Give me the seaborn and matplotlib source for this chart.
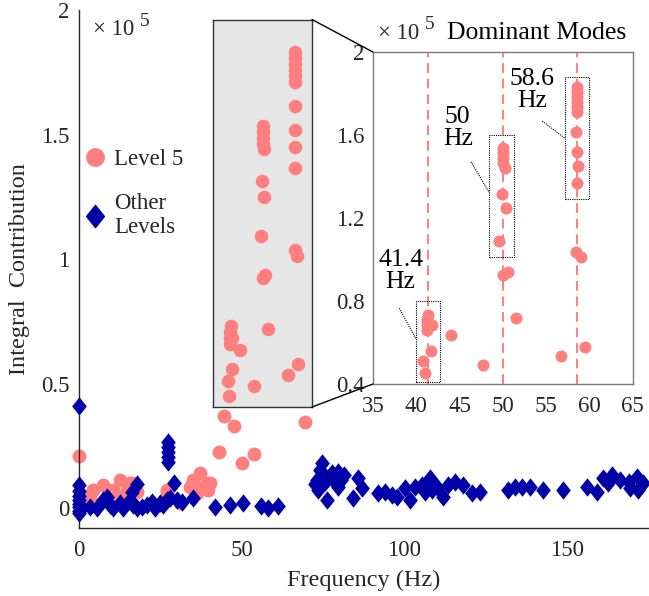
import numpy as np
import pandas as pd
import seaborn as sns
import matplotlib.pyplot as plt
from matplotlib.lines import Line2D
from matplotlib.patches import Rectangle, ConnectionPatch
from matplotlib.path import Path

# ---------------- data (integral contribution in units of 1e5) ----------------
# Level 5 modes visible in the main panel
level5_freq = [0.0, 2.4, 3.4, 4.4, 7.5, 10.5, 12.6, 12.6, 14.7, 15.7, 16.3, 17.8,
               27.0, 27.0, 31.0, 34.1, 35.1, 36.2, 37.2, 38.1, 39.3, 39.8, 40.3,
               43.0, 44.7, 47.7, 50.2, 53.8, 69.5]
level5_amp = [0.21, 0.045, 0.044, 0.072, 0.092, 0.072, 0.112, 0.044, 0.072, 0.099, 0.10, 0.064,
              0.072, 0.064, 0.02, 0.086, 0.112, 0.059, 0.139, 0.084, 0.099, 0.072, 0.10,
              0.226, 0.37, 0.33, 0.18, 0.216, 0.347]

# All other decomposition levels
other_freq = [0, 0, 0, 0, 0, 0, 0, 0, 0,
              3.4, 5.4, 7.5, 8.5, 9.5, 10.5, 12.6, 13.6, 15.7, 16.7, 16.2, 17.7, 17.8,
              19.3, 20.8, 22.3, 23.4, 24.9, 25.9, 27.0, 28.0, 30.0, 31.6,
              27.4, 27.4, 27.4, 27.4, 27.4, 29.3, 35.0, 41.8, 46.4, 50.5, 55.8, 58.2, 61.3,
              74.6, 74.1, 73.1, 75.6, 77.7, 79.7, 81.3, 78.7, 79.7, 73.6, 76.1, 76.6, 72.5, 80.5,
              85.9, 86.9, 84.3, 92.0, 94.1, 96.1, 97.6, 100.2, 101.8, 103.3, 105.3, 106.4,
              107.9, 108.4, 110.0, 112.0, 113.5, 115.6, 118.1, 120.7, 123.3, 132.0, 134.0,
              136.1, 138.6, 142.5, 148.9, 156.1, 159.2, 161.2, 163.7, 166.3, 168.9, 171.4,
              171.9, 173.5, 162.7, 169.4]
other_amp = [0.41, 0.092, 0.07, 0.05, 0.032, 0.015, 0.004, -0.01, -0.02,
             0.005, 0.0, 0.032, 0.045, 0.012, 0.0, 0.02, 0.0, 0.032, 0.012, 0.065, 0.0, 0.095,
             0.005, 0.012, 0.025, 0.0, 0.02, 0.012, 0.032, 0.04, 0.032, 0.025,
             0.265, 0.245, 0.225, 0.205, 0.185, 0.10, 0.042, 0.004, 0.014, 0.022, 0.01, 0.0, 0.01,
             0.18, 0.153, 0.112, 0.106, 0.14, 0.146, 0.133, 0.106, 0.086, 0.072, 0.032, 0.12, 0.095, 0.112,
             0.12, 0.079, 0.039, 0.059, 0.065, 0.052, 0.045, 0.079, 0.032, 0.086, 0.092, 0.065,
             0.12, 0.072, 0.086, 0.045, 0.092, 0.106, 0.092, 0.059, 0.065, 0.072, 0.086,
             0.086, 0.086, 0.072, 0.072, 0.086, 0.065, 0.12, 0.133, 0.112, 0.106, 0.126,
             0.072, 0.099, 0.099, 0.079]

# Dominant Level 5 modes (zoomed view)
dom_freq = [58.6, 58.6, 58.6, 58.6, 58.6, 58.6, 58.5, 58.6, 58.7, 58.6, 58.5, 59.0,
            59.5, 56.7,
            50.0, 50.0, 50.0, 50.0, 50.25, 49.9, 50.4, 49.6, 50.0, 50.55, 51.5, 47.75,
            41.4, 41.3, 41.3, 41.8, 41.3, 44.0, 41.7, 40.75, 41.0]
dom_amp = [1.833, 1.809, 1.785, 1.76, 1.736, 1.712, 1.616, 1.52, 1.451, 1.367, 1.035, 1.013,
           0.577, 0.535,
           1.536, 1.512, 1.488, 1.464, 1.44, 1.314, 1.25, 1.091, 0.925, 0.938, 0.72, 0.49,
           0.733, 0.708, 0.684, 0.684, 0.66, 0.636, 0.56, 0.512, 0.452]

mode_labels = ['41.4\nHz', '50\nHz', '58.6\nHz']
mode_freq = [41.4, 50.0, 58.6]

level5_df = pd.DataFrame({'freq': level5_freq, 'amp': level5_amp})
other_df = pd.DataFrame({'freq': other_freq, 'amp': other_amp})
dom_df = pd.DataFrame({'freq': dom_freq, 'amp': dom_amp})

# ---------------- style ----------------
sns.set_theme(style='white')
plt.rcParams['font.family'] = ['Liberation Serif', 'DejaVu Serif']

RED = '#FF7F7F'
BLUE = '#0000A8'
TXT = '#262626'
DIAMOND = Path([(0, 1), (0.8, 0), (0, -1), (-0.8, 0), (0, 1)],
               [Path.MOVETO, Path.LINETO, Path.LINETO, Path.LINETO, Path.CLOSEPOLY])

W, H = 649, 596
fig = plt.figure(figsize=(W / 100, H / 100), dpi=100)


def scale_note(axis, x, y, size=16.5):
    """Write a '× 10^5' multiplier with a raised exponent at axes position (x, y)."""
    t = axis.text(x, y, '\u00d7 10', transform=axis.transAxes, fontsize=size,
                  color=TXT, ha='left', va='center')
    axis.annotate('5', xy=(1, 0.5), xycoords=t, xytext=(4, 6), textcoords='offset points',
                  fontsize=size * 0.85, color=TXT, ha='left', va='center')


# ---------------- main panel ----------------
ax = fig.add_axes([79 / W, 68 / H, 570 / W, 518 / H])
sns.scatterplot(data=level5_df, x='freq', y='amp', ax=ax, color=RED, s=100,
                linewidth=0, legend=False, zorder=2, clip_on=False)
sns.scatterplot(data=other_df, x='freq', y='amp', ax=ax, color=BLUE, s=175,
                marker=DIAMOND, linewidth=0, legend=False, zorder=3, clip_on=False)
ax.set_xlim(0, 175.2)
ax.set_ylim(-0.08, 2.0)
ax.set_xticks([0, 50, 100, 150])
ax.set_yticks([0, 0.5, 1, 1.5, 2])
ax.set_yticklabels(['0', '0.5', '1', '1.5', '2'])
for s in ['top', 'right']:
    ax.spines[s].set_visible(False)
for s in ['left', 'bottom']:
    ax.spines[s].set_color('#262626')
    ax.spines[s].set_linewidth(1.0)
ax.tick_params(axis='both', direction='in', length=6, width=1.0, color='#262626',
               labelsize=16.5, labelcolor=TXT)
ax.tick_params(axis='x', pad=9)
ax.tick_params(axis='y', pad=7)
ax.set_xlabel('Frequency (Hz)', fontsize=17.5, color=TXT, labelpad=6)
ax.set_ylabel('Integral  Contribution', fontsize=17.5, color=TXT, labelpad=8)
scale_note(ax, 0.025, 0.962)

handles = [Line2D([], [], ls='', marker='o', color=RED, markersize=12.5),
           Line2D([], [], ls='', marker=DIAMOND, color=BLUE, markersize=16)]
ax.legend(handles, ['Level 5', 'Other\nLevels'], loc='upper left',
          bbox_to_anchor=(81 / W, 1 - 149 / H), bbox_transform=fig.transFigure,
          frameon=False, fontsize=16.5, handletextpad=0.25, labelspacing=1.0,
          borderaxespad=0, borderpad=0, handlelength=1.2)

# ---------------- magnified region marker ----------------
box = fig.add_axes([213 / W, (H - 407) / H, 99 / W, 387.5 / H])
box.set_facecolor('#E6E6E6')
sns.scatterplot(data=dom_df, x='freq', y='amp', ax=box, color=RED, s=95,
                linewidth=0, legend=False)
box.set_xlim(36.67, 63.14)
box.set_ylim(0.406, 1.962)
box.set_xticks([])
box.set_yticks([])
box.set_xlabel('')
box.set_ylabel('')
for s in box.spines.values():
    s.set_color('#333333')
    s.set_linewidth(1.0)

# ---------------- zoomed view ----------------
ins = fig.add_axes([372.9 / W, (H - 384) / H, 259.8 / W, 332 / H])
for f in mode_freq:
    ins.axvline(f, color=RED, ls=(0, (5, 3)), lw=1.4, zorder=1)
sns.scatterplot(data=dom_df, x='freq', y='amp', ax=ins, color=RED, s=75,
                linewidth=0, legend=False, zorder=2)
ins.set_xlim(35, 65)
ins.set_ylim(0.4, 2.0)
ins.set_xticks([35, 40, 45, 50, 55, 60, 65])
ins.set_yticks([0.4, 0.8, 1.2, 1.6, 2.0])
ins.set_yticklabels(['0.4', '0.8', '1.2', '1.6', '2'])
ins.set_xlabel('')
ins.set_ylabel('')
for s in ins.spines.values():
    s.set_color('#7A7A7A')
    s.set_linewidth(1.0)
ins.tick_params(axis='both', direction='in', length=4, width=1.0, color='#7A7A7A',
                labelsize=16.5, labelcolor=TXT)
ins.tick_params(axis='x', pad=9)
ins.tick_params(axis='y', pad=6)
scale_note(ins, 0.02, 1.057)
ins.text(0.285, 1.057, 'Dominant Modes', transform=ins.transAxes,
         fontsize=18.5, color='black', ha='left', va='center')

# dotted frames around each dominant cluster with leader lines and labels
frames = [(40.0, 0.41, 2.8, 0.39), (48.4, 1.01, 2.9, 0.59), (57.2, 1.29, 2.75, 0.59)]
leaders = [((38.05, 0.765), (39.94, 0.62)),
           ((46.33, 1.471), (48.44, 1.322)),
           ((54.56, 1.667), (57.18, 1.584))]
label_pos = [(38.2, 0.945), (44.8, 1.634), (53.4, 1.817)]
for (x0, y0, w, h), (p0, p1), (lx, ly), lab in zip(frames, leaders, label_pos, mode_labels):
    ins.add_patch(Rectangle((x0, y0), w, h, fill=False, ec='black', lw=0.8,
                            ls=(0, (1, 1)), zorder=3))
    ins.plot([p0[0], p1[0]], [p0[1], p1[1]], color='black', lw=0.8, ls=(0, (1, 1)), zorder=3)
    ins.text(lx, ly, lab, fontsize=18.5, color='black', ha='center', va='center',
             linespacing=1.0, zorder=4)

# lines linking the marked region to the zoomed view
for a, b in [((1, 1), (0, 1)), ((1, 0), (0, 0))]:
    con = ConnectionPatch(xyA=a, coordsA=box.transAxes, xyB=b, coordsB=ins.transAxes,
                          color='black', lw=1.0)
    fig.add_artist(con)

fig.savefig('out.png', dpi=100)
